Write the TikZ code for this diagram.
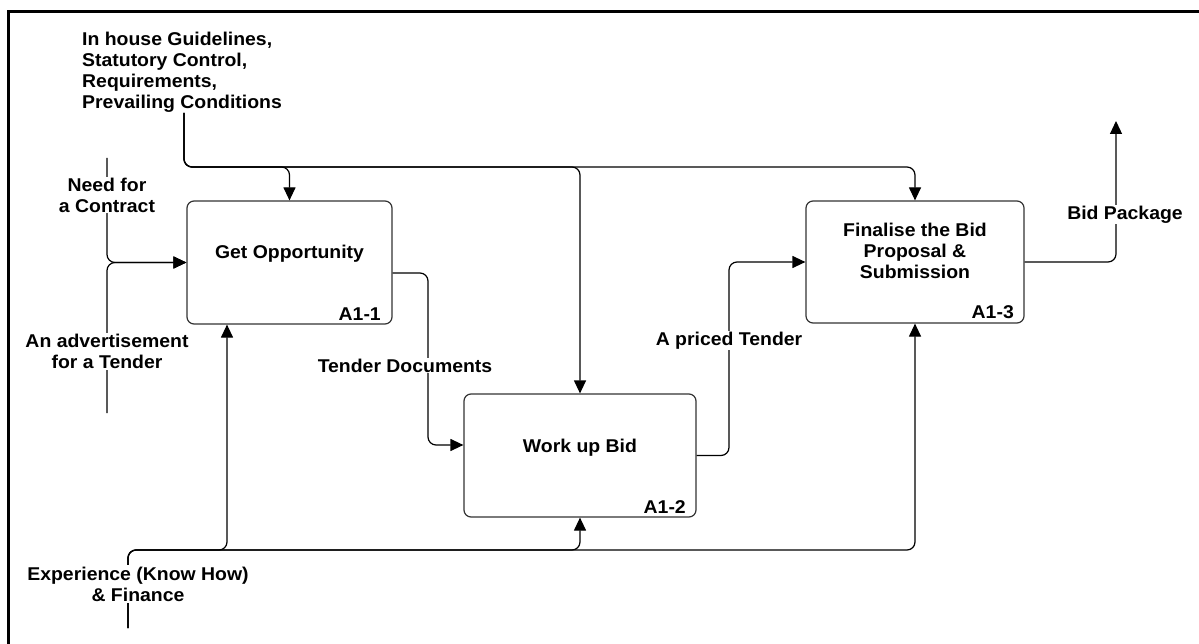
\documentclass[tikz,border=0pt]{standalone}
\usepackage{fontspec}
\setmainfont{Liberation Sans}[FakeStretch=1.05]
\usetikzlibrary{arrows.meta}
\begin{document}
\begin{tikzpicture}[x=1pt,y=-1pt,
  every node/.style={font=\fontsize{18.5}{21}\selectfont\bfseries, inner sep=0pt},
  procbox/.style={draw=black!80, line width=1.2pt, rounded corners=7pt, fill=white},
  conn/.style={draw=black, line width=1.2pt, rounded corners=8pt},
  arr/.style={conn, -{Triangle[length=13pt,width=12pt]}},
  lbl/.style={fill=white, align=center, inner sep=1pt},
  plain/.style={align=center}]
\useasboundingbox (0,0) rectangle (1199,644);
% frame (top and left)
\draw[line width=3.3pt] (8.5,644) -- (8.5,11.5) -- (1199,11.5);

% process boxes
\node[procbox, minimum width=205pt, minimum height=123pt] (b1) at (289.5,262.5) {};
\node[procbox, minimum width=232pt, minimum height=123pt] (b2) at (580,455.5) {};
\node[procbox, minimum width=218pt, minimum height=122pt] (b3) at (915,262) {};

\node[plain, anchor=base] (t1) at (289.5,259) {Get Opportunity};
\node[plain, anchor=base] (t2) at (580,452) {Work up Bid};
\node[plain] (t3) at (915,251) {Finalise the Bid\\Proposal \&\\Submission};
\node[anchor=base east] (id1) at (381,320) {A1-1};
\node[anchor=base east] (id2) at (686,513) {A1-2};
\node[anchor=base east] (id3) at (1014,319) {A1-3};

% helper coordinates
\coordinate (ctl) at (184,113);
\coordinate (hc) at (0,167);
\coordinate (in1) at (107,158);
\coordinate (in2) at (107,413);
\coordinate (mech) at (128,628);
\coordinate (hm) at (0,550);
\coordinate (m1) at (227,550);
\coordinate (out) at (1116,121);

% controls
\draw[arr] (ctl) |- (hc -| b3.north) -- (b3.north);
\draw[arr] (ctl) |- (hc -| b1.north) -- (b1.north);
\draw[arr] (ctl) |- (hc -| b2.north) -- (b2.north);

% inputs
\draw[arr] (in1) |- (b1.west);
\draw[arr] (in2) |- (b1.west);

% mechanisms
\draw[arr] (mech) |- (hm -| b3.south) -- (b3.south);
\draw[arr] (mech) |- (m1) -- (m1 |- b1.south);
\draw[arr] (mech) |- (hm -| b2.south) -- (b2.south);

% flows between boxes
\draw[arr] (b1.east |- 0,273) -| (428,445) -- (b2.west |- 0,445);
\draw[arr] (b2.east) -| (729,262) -- (b3.west);
\draw[arr] (b3.east) -| (out);

% labels
\node[align=left, anchor=west] (tctl) at (82,72.5) {In house Guidelines,\\Statutory Control,\\Requirements,\\Prevailing Conditions};
\node[lbl] (tin1) at (107,195) {Need for\\a Contract};
\node[lbl] (tin2) at (107,351.5) {An advertisement\\for a Tender};
\node[lbl, inner sep=2pt] (tmech) at (138,584) {Experience (Know How)\\\& Finance};
\node[lbl] (ttd) at (405,365.5) {Tender Documents};
\node[lbl] (tpt) at (729,340.5) {A priced Tender};
\node[lbl] (tbp) at (1125,214.5) {Bid Package};
\end{tikzpicture}
\end{document}
